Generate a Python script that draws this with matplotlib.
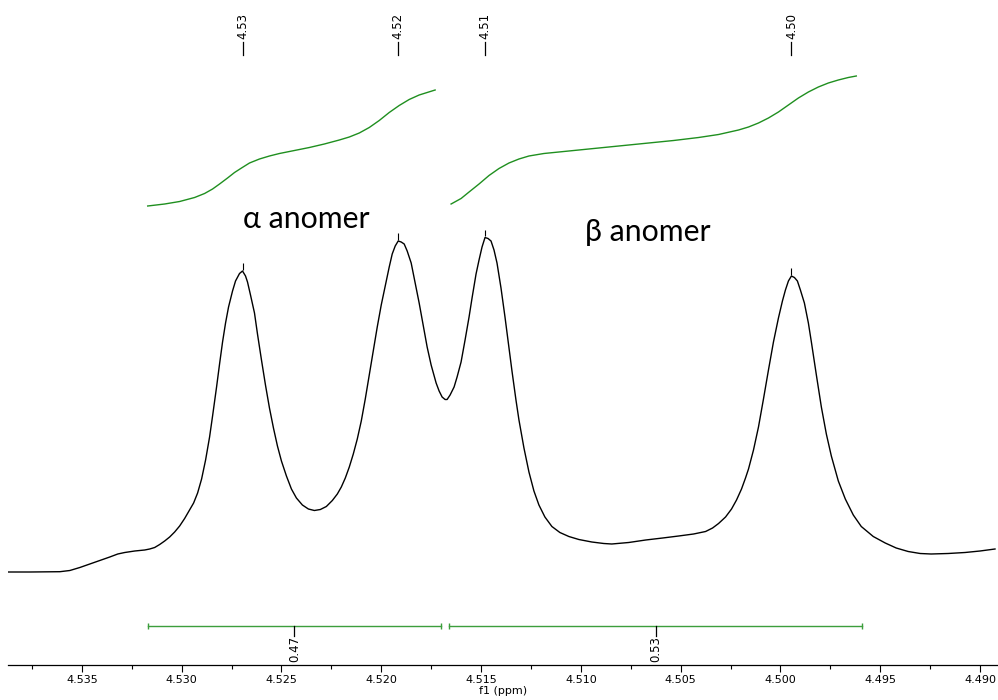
import numpy as np
import matplotlib
matplotlib.use("Agg")
import matplotlib.pyplot as plt
from matplotlib.ticker import MultipleLocator, FormatStrFormatter

# 1H spectrum, anomeric region (ppm, intensity in arbitrary units)
ppm = [4.5387, 4.5376, 4.5361, 4.5356, 4.5351, 4.5346, 4.5341, 4.5336, 4.5332, 4.53285,
       4.53235, 4.53185, 4.5316, 4.53135, 4.5311, 4.53085, 4.5306, 4.53035, 4.5301, 4.52985,
       4.5296, 4.5294, 4.5292, 4.529, 4.5288, 4.5286, 4.52845, 4.52825, 4.5281, 4.52795,
       4.5278, 4.52765, 4.52745, 4.5273, 4.5271, 4.52695, 4.5268, 4.5267, 4.52655, 4.52635,
       4.5262, 4.526, 4.5258, 4.5256, 4.5254, 4.5252, 4.525, 4.52475, 4.5245, 4.52425,
       4.52395, 4.52365, 4.52335, 4.52305, 4.52275, 4.52245, 4.5222, 4.522, 4.5218, 4.5216,
       4.5214, 4.5212, 4.521, 4.5208, 4.5206, 4.5204, 4.5202, 4.52, 4.51975, 4.5196,
       4.51945, 4.5193, 4.51915, 4.519, 4.51885, 4.5187, 4.5185, 4.5183, 4.5181, 4.5179,
       4.5177, 4.5175, 4.51725, 4.5171, 4.51695, 4.5168, 4.5167, 4.51655, 4.51635, 4.5162,
       4.516, 4.5158, 4.5156, 4.51545, 4.51525, 4.5151, 4.51495, 4.5148, 4.51465, 4.5145,
       4.51435, 4.5142, 4.514, 4.5138, 4.5136, 4.51345, 4.51325, 4.5131, 4.51285, 4.5126,
       4.51235, 4.5121, 4.5118, 4.51145, 4.51105, 4.5106, 4.5101, 4.50945, 4.50885, 4.50845,
       4.5076, 4.50675, 4.5059, 4.5051, 4.50435, 4.50375, 4.5034, 4.5031, 4.50275, 4.50245,
       4.5022, 4.50195, 4.50175, 4.5016, 4.50135, 4.5011, 4.50085, 4.5006, 4.50035, 4.5001,
       4.4999, 4.49975, 4.4996, 4.49945, 4.4993, 4.49915, 4.499, 4.4988, 4.4986, 4.49845,
       4.4982, 4.49795, 4.4977, 4.49745, 4.4971, 4.49675, 4.49635, 4.49595, 4.49535, 4.49475,
       4.4942, 4.4936, 4.493, 4.49245, 4.4916, 4.49075, 4.49, 4.48925]
intensity = [0.0, 0.0, 0.03, 0.15, 0.45, 0.8, 1.15, 1.5, 1.8, 1.95,
             2.1, 2.2, 2.3, 2.45, 2.75, 3.1, 3.5, 4.0, 4.6, 5.35,
             6.2, 6.9, 7.9, 9.3, 11.2, 13.5, 15.6, 18.5, 20.8, 23.0,
             24.9, 26.5, 28.1, 29.1, 29.85, 30.1, 29.6, 29.0, 27.7, 25.9,
             23.8, 21.2, 18.7, 16.4, 14.4, 12.6, 11.1, 9.6, 8.3, 7.4,
             6.7, 6.3, 6.15, 6.25, 6.55, 7.15, 7.8, 8.5, 9.4, 10.5,
             11.8, 13.3, 15.1, 17.3, 19.7, 22.1, 24.5, 26.7, 29.1, 30.5,
             31.8, 32.6, 33.1, 33.0, 32.8, 32.1, 30.9, 28.9, 26.9, 24.7,
             22.5, 20.7, 18.9, 18.1, 17.5, 17.25, 17.25, 17.7, 18.5, 19.5,
             21.0, 23.2, 25.5, 27.4, 29.8, 31.2, 32.5, 33.45, 33.35, 33.1,
             32.2, 30.9, 28.4, 25.5, 22.4, 20.1, 17.2, 15.2, 12.4, 10.0,
             8.1, 6.7, 5.5, 4.55, 3.95, 3.55, 3.25, 3.0, 2.85, 2.8,
             2.95, 3.2, 3.4, 3.6, 3.8, 4.05, 4.4, 4.85, 5.5, 6.3,
             7.2, 8.3, 9.4, 10.3, 12.2, 14.5, 17.3, 20.2, 23.0, 25.4,
             27.1, 28.2, 29.1, 29.6, 29.45, 29.1, 28.2, 26.9, 24.9, 23.0,
             19.7, 16.5, 13.8, 11.6, 9.1, 7.3, 5.7, 4.55, 3.55, 2.9,
             2.4, 2.05, 1.85, 1.8, 1.85, 1.95, 2.1, 2.3]

# picked peaks
peak_ppm = [4.52695, 4.51915, 4.5148, 4.49945]
peak_int = [30.1, 33.1, 33.45, 29.6]

# integral traces
int1_ppm = [4.5317, 4.53085, 4.5301, 4.52935, 4.52885, 4.52845, 4.5281, 4.5277, 4.52735, 4.527,
            4.5266, 4.5261, 4.5256, 4.5251, 4.52435, 4.5236, 4.52285, 4.5221, 4.5216, 4.5211,
            4.5206, 4.5201, 4.5196, 4.5191, 4.5186, 4.5181, 4.5177, 4.5173]
int1_val = [36.6, 36.8, 37.05, 37.45, 37.85, 38.3, 38.8, 39.4, 39.95, 40.4,
            40.9, 41.3, 41.6, 41.85, 42.15, 42.45, 42.8, 43.2, 43.5, 43.9,
            44.45, 45.15, 45.95, 46.65, 47.25, 47.7, 47.95, 48.2]
int2_ppm = [4.5165, 4.516, 4.5156, 4.5151, 4.5146, 4.5141, 4.5136, 4.5131, 4.5126, 4.51185,
            4.5111, 4.5101, 4.5091, 4.50785, 4.5066, 4.50535, 4.5041, 4.5031, 4.5021, 4.5016,
            4.5011, 4.5006, 4.5001, 4.4996, 4.4991, 4.4986, 4.4981, 4.4976, 4.4971, 4.4966,
            4.4962]
int2_val = [36.8, 37.35, 38.0, 38.8, 39.65, 40.35, 40.9, 41.3, 41.6, 41.85,
            42.0, 42.2, 42.4, 42.65, 42.9, 43.15, 43.45, 43.75, 44.2, 44.5,
            44.9, 45.4, 46.0, 46.7, 47.4, 48.0, 48.5, 48.9, 49.2, 49.45,
            49.6]

# integration ranges and normalised areas
ranges = [(4.5317, 4.5170), (4.5166, 4.4959)]
areas = [0.47, 0.53]

green = "#1f8f1f"

fig = plt.figure(figsize=(9.98, 7.0), dpi=100)
ax = fig.add_axes([0.008, 0.05, 0.992, 0.95])

ax.plot(ppm, intensity, color="black", lw=1.0)
ax.plot(int1_ppm, int1_val, color=green, lw=1.0)
ax.plot(int2_ppm, int2_val, color=green, lw=1.0)

# small marks above each peak + labels along the top
ax.vlines(peak_ppm, [p + 0.1 for p in peak_int], [p + 0.8 for p in peak_int],
          color="black", lw=0.8)
trans = ax.get_xaxis_transform()
for p in peak_ppm:
    ax.plot([p, p], [0.917, 0.937], color="black", lw=0.9, transform=trans)
    ax.text(p, 0.941, f"{p:.2f}", rotation=90, ha="center", va="bottom",
            fontsize=8.5, transform=trans)

# integration bars
bar_y = -5.4
for (a, b), area in zip(ranges, areas):
    ax.plot([a, b], [bar_y, bar_y], color="#3c9e3c", lw=1.0)
    ax.vlines([a, b], bar_y - 0.3, bar_y + 0.3, color="#3c9e3c", lw=1.0)
    mid = (a + b) / 2
    ax.plot([mid, mid], [bar_y, bar_y - 0.95], color="black", lw=0.9)
    ax.text(mid, bar_y - 1.0, f"{area:.2f}", rotation=90, ha="center", va="top",
            fontsize=8.5)

ax.text(4.52375, 34.4, "α anomer", fontsize=21.8, ha="center", va="baseline",
        family=["Lato", "DejaVu Sans"])
ax.text(4.50665, 33.1, "β anomer", fontsize=21.8, ha="center", va="baseline",
        family=["Lato", "DejaVu Sans"])

ax.set_xlim(4.5387, 4.4891)
ax.set_ylim(-9.3, 57.2)
for s in ["top", "left", "right"]:
    ax.spines[s].set_visible(False)
ax.spines["bottom"].set_linewidth(0.9)
ax.set_yticks([])
ax.xaxis.set_major_locator(MultipleLocator(0.005))
ax.xaxis.set_minor_locator(MultipleLocator(0.0025))
ax.xaxis.set_major_formatter(FormatStrFormatter("%.3f"))
ax.tick_params(axis="x", which="major", length=5, width=0.8, labelsize=8, pad=2)
ax.tick_params(axis="x", which="minor", length=3, width=0.8)
ax.set_xlabel("f1 (ppm)", fontsize=8, labelpad=1)

fig.savefig("out.png", dpi=100)
